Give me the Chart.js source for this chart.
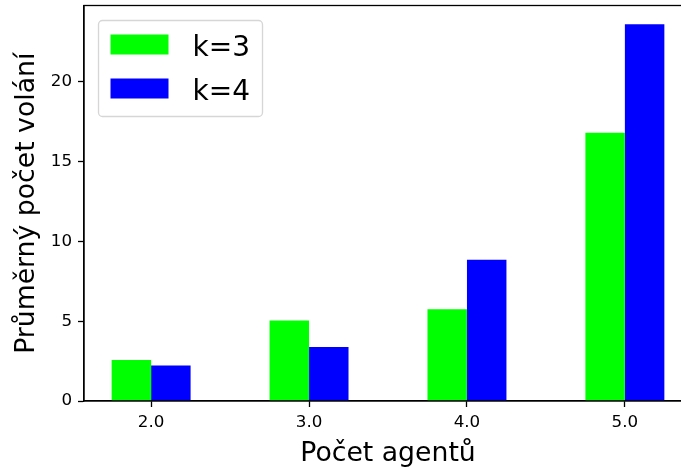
<!DOCTYPE html>
<html>
<head>
<meta charset="utf-8">
<script src="https://cdn.jsdelivr.net/npm/chart.js@4/dist/chart.umd.min.js"></script>
<style>
html, body { margin: 0; padding: 0; overflow: hidden; background: #fff; }
</style>
</head>
<body>
<canvas id="graf" width="720" height="470"></canvas>
<script>
// data
const agenti = [2.0, 3.0, 4.0, 5.0];
const popiskyX = ['2.0', '3.0', '4.0', '5.0'];
const volaniK3 = [2.57, 5.04, 5.75, 16.8];
const volaniK4 = [2.22, 3.39, 8.85, 23.6];
const tickyY = [0, 5, 10, 15, 20];

const FONT = 'DejaVu Sans';
const sirkaSloupce = 0.25;
const xLo = agenti[0] - sirkaSloupce, xHi = agenti[agenti.length - 1] + sirkaSloupce;
const xPad = (xHi - xLo) * 0.05;
const yMax = Math.max(...volaniK3, ...volaniK4) * 1.05;

// ramecek os + legenda jako v matplotlibu
const ramecek = {
    id: 'ramecek',
    afterDraw(chart) {
        const { ctx, chartArea: a } = chart;
        ctx.save();
        ctx.strokeStyle = '#000';
        ctx.lineWidth = 1.3;
        ctx.strokeRect(a.left, a.top, a.right - a.left, a.bottom - a.top);

        // legenda
        const lx = a.left + 14.5, ly = a.top + 15;
        ctx.beginPath();
        ctx.roundRect(lx, ly, 164, 96, 4);
        ctx.fillStyle = 'rgba(255,255,255,0.8)';
        ctx.fill();
        ctx.strokeStyle = 'rgba(204,204,204,0.8)';
        ctx.lineWidth = 1.3;
        ctx.stroke();
        chart.data.datasets.forEach((ds, i) => {
            const py = ly + 14 + i * 44;
            ctx.fillStyle = ds.backgroundColor;
            ctx.fillRect(lx + 12, py, 58, 20);
            ctx.fillStyle = '#000';
            ctx.font = '28px "' + FONT + '"';
            ctx.textBaseline = 'alphabetic';
            ctx.textAlign = 'left';
            ctx.fillText(ds.label, lx + 94, py + 21);
        });
        ctx.restore();
    }
};

function bezOkraju(s) {
    s.paddingTop = 0;
    s.paddingBottom = 0;
    s.paddingLeft = 0;
    s.paddingRight = 0;
}

new Chart(document.getElementById('graf'), {
    type: 'bar',
    data: {
        datasets: [{
            label: 'k=3',
            data: agenti.map((x, i) => ({ x: x, y: volaniK3[i] })),
            backgroundColor: '#00ff00'
        }, {
            label: 'k=4',
            data: agenti.map((x, i) => ({ x: x, y: volaniK4[i] })),
            backgroundColor: '#0000ff'
        }]
    },
    options: {
        responsive: false,
        animation: false,
        categoryPercentage: 0.5,
        barPercentage: 1.0,
        layout: { autoPadding: false, padding: { left: 0, top: 5.5, right: 28, bottom: 0 } },
        plugins: { legend: { display: false }, tooltip: { enabled: false } },
        scales: {
            x: {
                type: 'linear',
                offset: false,
                min: xLo - xPad,
                max: xHi + xPad,
                afterBuildTicks: s => { s.ticks = agenti.map(v => ({ value: v })); },
                afterFit: s => { s.height = 69; bezOkraju(s); },
                ticks: {
                    callback: (v, i) => popiskyX[i],
                    color: '#000',
                    font: { family: FONT, size: 16.7 },
                    padding: 6,
                    maxRotation: 0
                },
                grid: { offset: false, drawOnChartArea: false, tickLength: 6, tickColor: '#000', tickWidth: 1.3 },
                border: { color: '#000', width: 1.3 },
                title: {
                    display: true,
                    text: 'Počet agentů',
                    color: '#000',
                    font: { family: FONT, size: 26.7 },
                    padding: { top: 0, bottom: 0 }
                }
            },
            y: {
                min: 0,
                max: yMax,
                afterBuildTicks: s => { s.ticks = tickyY.map(v => ({ value: v })); },
                afterFit: s => { s.width = 84; bezOkraju(s); },
                ticks: {
                    callback: v => String(v),
                    color: '#000',
                    font: { family: FONT, size: 16.7 },
                    padding: 6
                },
                grid: { drawOnChartArea: false, tickLength: 6, tickColor: '#000', tickWidth: 1.3 },
                border: { color: '#000', width: 1.3 },
                title: {
                    display: true,
                    text: 'Průměrný počet volání',
                    color: '#000',
                    font: { family: FONT, size: 26.7 },
                    padding: { top: 11, bottom: 0 }
                }
            }
        }
    },
    plugins: [ramecek]
});
</script>
</body>
</html>
